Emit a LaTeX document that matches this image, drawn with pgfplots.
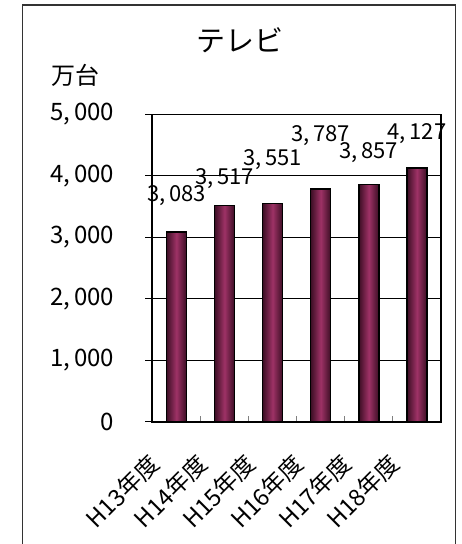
\documentclass[border=0pt]{standalone}
\usepackage{pgfplots}
\pgfplotsset{compat=1.18}
\usepackage{fontspec}
\setmainfont{Noto Sans CJK JP}
\definecolor{barmid}{RGB}{158,50,102}
\definecolor{baredge}{RGB}{60,14,36}
\pgfplotsset{tvbar/.style={ybar, bar width=20pt, draw=black, line width=1.4pt,
  left color=baredge, right color=baredge, middle color=barmid}}
\begin{document}
\begin{tikzpicture}
\begin{axis}[
  name=ax,
  at={(0pt,0pt)}, anchor=south west,
  scale only axis,
  width=288.7pt, height=307.4pt,
  xmin=-0.5, xmax=5.5, ymin=0, ymax=5000,
  axis line style={line width=1.6pt, black},
  xtick={0,1,2,3,4,5},
  xticklabels={H13年度,H14年度,H15年度,H16年度,H17年度,H18年度},
  minor xtick={0.5,1.5,2.5,3.5,4.5},
  major x tick style={draw=none},
  minor x tick style={gray, line width=1pt},
  minor tick length=6pt,
  xtick pos=bottom,
  xtick align=inside,
  ytick={0,1000,2000,3000,4000,5000},
  yticklabels={0,{1,\,000},{2,\,000},{3,\,000},{4,\,000},{5,\,000}},
  ytick pos=left,
  ytick align=outside,
  major tick length=7pt,
  y tick style={black, line width=0.8pt},
  ymajorgrids,
  grid style={black, line width=0.8pt},
  yticklabel style={font=\fontsize{24}{28}\selectfont, anchor=east, inner sep=0pt, xshift=-31pt},
  xticklabel style={font=\fontsize{23.5}{27}\selectfont, rotate=45, anchor=east, inner sep=0pt, xshift=-42pt, yshift=-11pt},
  /pgf/number format/assume math mode=true,
  clip=false,
]
\addplot[tvbar] coordinates {(0,3083)};
\addplot[tvbar] coordinates {(1,3517)};
\addplot[tvbar] coordinates {(2,3551)};
\addplot[tvbar] coordinates {(3,3787)};
\addplot[tvbar] coordinates {(4,3857)};
\addplot[tvbar] coordinates {(5,4127)};
\addplot[only marks, mark=none, point meta=explicit symbolic,
  nodes near coords,
  nodes near coords style={anchor=center, font=\fontsize{22}{26}\selectfont, inner sep=0pt, text=black}]
  coordinates {(0,3671)[{3,\,083}] (1,3956)[{3,\,517}] (2,4257)[{3,\,551}] (3,4647)[{3,\,787}] (4,4370)[{3,\,857}] (5,4680)[{4,\,127}]};
\end{axis}
\node[font=\fontsize{29}{34}\selectfont] at (87.7pt,381.7pt) {テレビ};
\node[font=\fontsize{24}{28}\selectfont] at (-76.3pt,346.7pt) {万台};
\draw[line width=1.3pt, black!80] (-130pt,-140pt) -- (-130pt,416.7pt) -- (303.2pt,416.7pt) -- (303.2pt,-140pt);
\pgfresetboundingbox
\useasboundingbox (-152.3pt,-122.3pt) rectangle (308.7pt,421.7pt);
\end{tikzpicture}
\end{document}
